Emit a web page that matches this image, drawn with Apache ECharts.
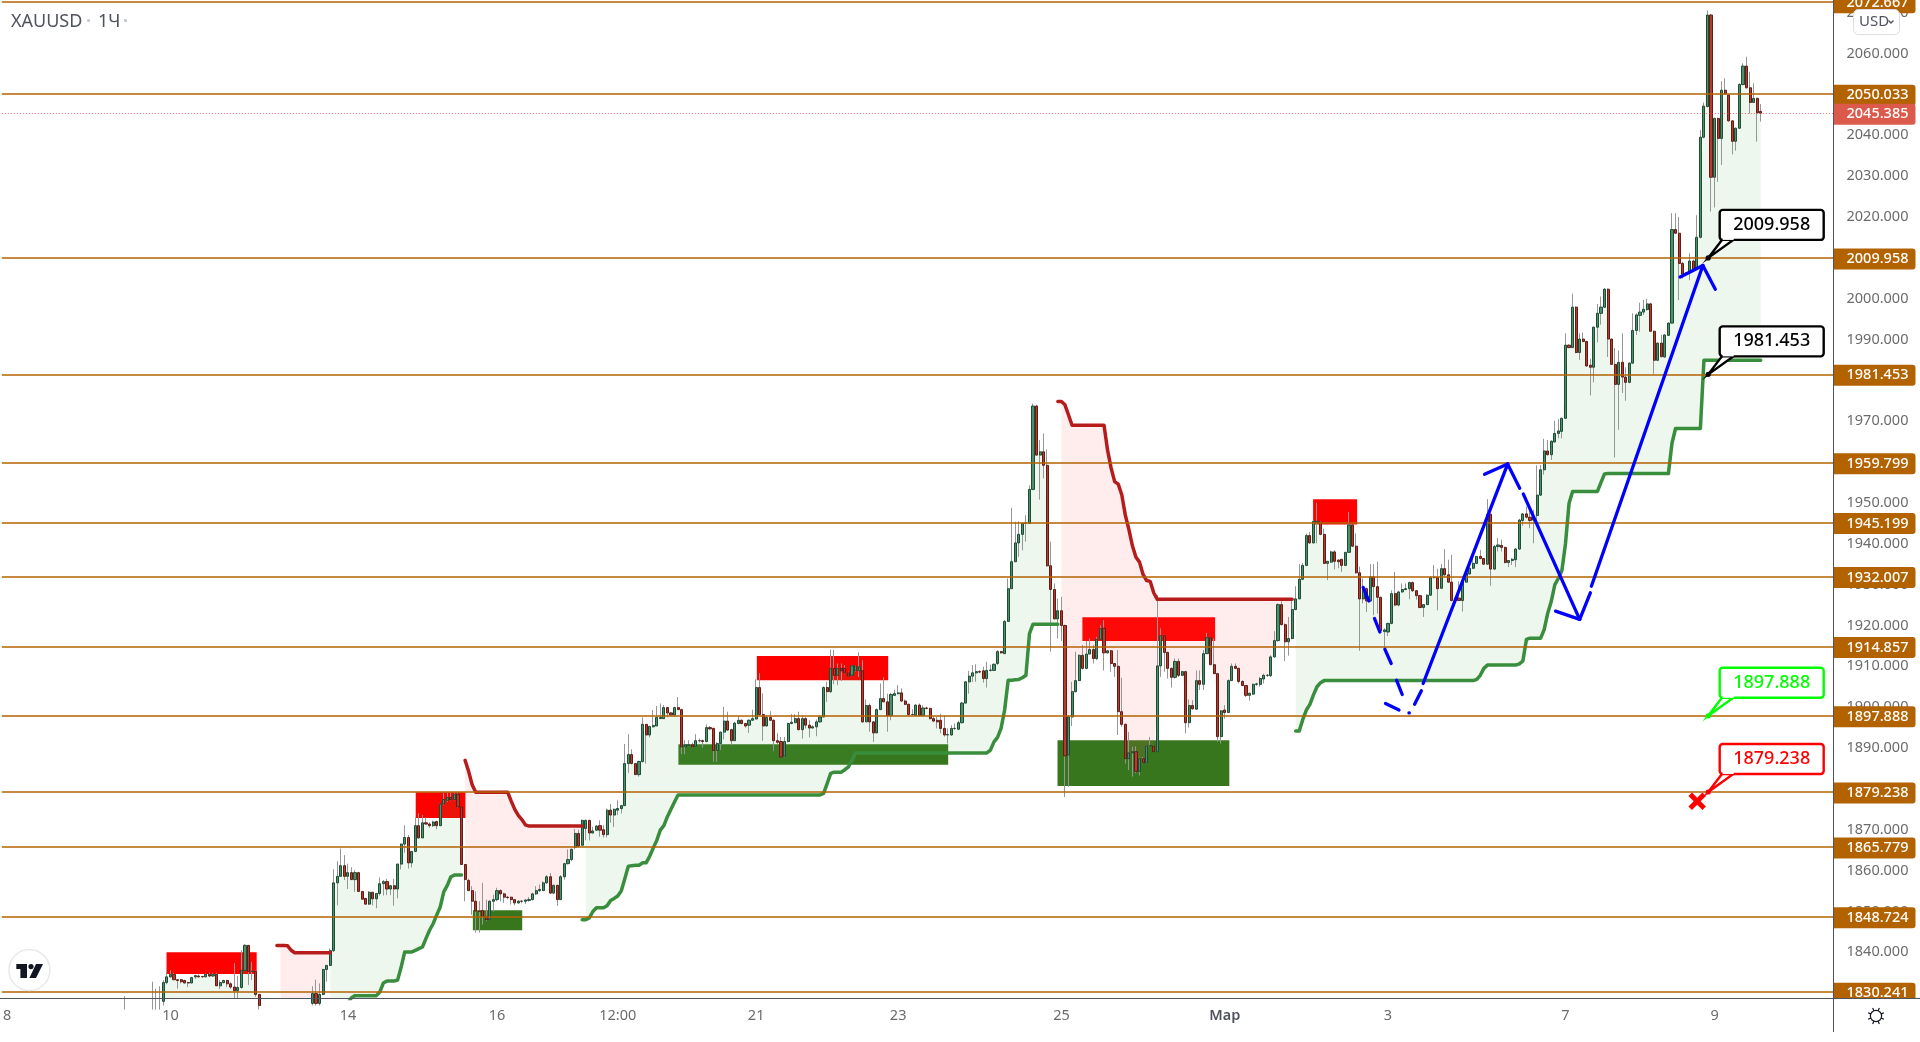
<!DOCTYPE html>
<html><head><meta charset="utf-8">
<style>html,body{margin:0;padding:0;background:#fff}#c{width:1920px;height:1042px}</style>
<script src="https://cdn.jsdelivr.net/npm/echarts@6/dist/echarts.min.js"></script>
</head><body><div id="c"></div>
<script>
const barCount = 516;
const tickPositions = [1,47,97,139,173,212,252,298,344,390,440,482];
const tickLabels = ["8","10","14","16","12:00","21","23","25","Мар","3","7","9"];
const priceTicks = [1840,1850,1860,1870,1880,1890,1900,1910,1920,1930,1940,1950,1960,1970,1980,1990,2000,2010,2020,2030,2040,2050,2060,2070];
const levels = [2072.667,2050.033,2009.958,1981.453,1959.799,1945.199,1932.007,1914.857,1897.888,1879.238,1865.779,1848.724,1830.241];
const lastPrice = 2045.385;

// candles: [open, close, low, high]
const startA = 34;
const runA = [[1827,1827.5,1826,1829.3]];
const startB = 42;
const runB = [[1827,1828,1826,1832.8],[1827,1827.5,1826,1831.1],[1827.5,1828,1826,1831.7],[1828,1832.6,1827,1833.2],[1832.6,1834,1832.2,1835.5],[1834,1834.6,1833.8,1835.6],[1834.6,1833.3,1833.2,1835],[1833.3,1833.1,1831.1,1833.4],[1833.3,1832.8,1832.4,1833.5],[1833.1,1832.5,1832.4,1833.3],[1832.6,1832.5,1831.5,1832.8],[1832.5,1833.8,1832.4,1834],[1834,1834.3,1833.5,1834.5],[1834.2,1834,1833.8,1834.6],[1834.1,1834,1833.8,1834.2],[1834,1834.6,1833.9,1834.9],[1834.6,1834.2,1834,1835],[1834.2,1834.6,1834,1835],[1834.6,1831.8,1831.8,1835],[1831.8,1832.6,1831,1833.2],[1832.6,1833.1,1832.4,1833.3],[1833.1,1832.3,1831.5,1833.3],[1832.3,1831.5,1831.1,1832.7],[1831.5,1830.6,1828.7,1837.4],[1830.6,1831.4,1828.7,1834.2],[1831.4,1835.6,1831.1,1840.5],[1835.6,1841.7,1835.5,1842],[1841.7,1835.3,1832,1841.8],[1835.3,1835.4,1833.2,1837.7],[1835.3,1829.7,1829.1,1835.5],[1829.7,1827,1826,1829.8]];
const startC = 87;
const runC = [[1827.5,1829.9,1827,1831.7],[1829.9,1827.5,1827,1833.3],[1827.5,1829.7,1827,1832.4],[1829.7,1835.8,1829.5,1836],[1835.8,1836.8,1832.8,1836.8],[1836.8,1840.4,1836.6,1840.9],[1840.4,1857,1840.1,1860.3],[1857,1858.6,1851.5,1862.3],[1858.6,1861.2,1858.6,1865.4],[1861.2,1858.6,1857.7,1863.8],[1858.6,1859.5,1855.5,1861.7],[1859.5,1857.8,1857.7,1860.8],[1857.8,1859.5,1854.8,1860.1],[1859.5,1854.9,1854.8,1859.7],[1854.9,1853,1853,1854.9],[1853.2,1851.8,1851.6,1853.2],[1851.8,1854.7,1851.6,1855],[1854.7,1853.1,1851.5,1854.7],[1853.1,1854.4,1850.8,1854.4],[1854.4,1856.8,1853.9,1858.3],[1856.8,1857.3,1853.9,1857.7],[1857.3,1855.5,1854,1858],[1855.5,1856.3,1854,1856.4],[1856.3,1855.5,1851.4,1858],[1855.5,1861.6,1853.2,1861.7],[1861.6,1866.5,1860.3,1866.6],[1866.5,1868.1,1864.4,1871.1],[1868.1,1861.9,1860.5,1868.7],[1861.9,1864.7,1860.8,1864.8],[1864.7,1871,1864.5,1873],[1871,1868,1867.8,1874],[1868,1871.7,1868,1873.6],[1871.7,1871.4,1871.3,1873],[1871.4,1871,1870.5,1871.8],[1871,1871.9,1870.7,1872.2],[1872,1871,1870.1,1872.2],[1871,1876.3,1871,1876.4],[1876.3,1877.4,1876,1879],[1877.2,1877.9,1876.8,1879],[1877.9,1877.4,1877.2,1879],[1877.4,1878.7,1877.2,1879.2],[1878.7,1875.6,1875.4,1879.2],
[1875.6,1861.5,1861.4,1875.7],[1861.5,1857.8,1852.5,1861.6],[1857.6,1855.1,1855,1858],[1855.1,1852.5,1849.2,1856.2],[1852.5,1850.1,1844.8,1854.9],[1850.1,1850,1844.8,1852.5],[1850.2,1848.8,1846.8,1857],[1848.8,1848,1847.6,1852.9],[1848,1852.5,1848,1852.7],[1852.5,1852.9,1850,1854.1],[1852.9,1855.1,1852.5,1855.8],[1855.1,1854.3,1852.5,1855.4],[1854.3,1853.5,1852.1,1854.6],[1853.5,1853.4,1853,1853.8],[1853.5,1852.9,1851.7,1853.6],[1852.9,1852.1,1851.5,1853],[1852.1,1852.5,1851.8,1852.8],[1852.5,1852.5,1852,1852.8],[1852.5,1852.8,1851.8,1853],[1852.7,1852.9,1852.4,1853.5],[1852.9,1854.3,1852.7,1854.6],[1854.3,1855.1,1854,1856.2],[1855.1,1855.4,1854.8,1856.6],[1855.1,1857,1855,1857.4],[1857,1858.5,1856.8,1858.9],[1858.5,1854.5,1854.3,1859.4],[1854.5,1856.4,1854.3,1856.6],[1856.4,1852.9,1851.4,1856.5],[1852.9,1858.5,1852.8,1858.9],[1858.5,1861.7,1857.8,1861.9],[1861.7,1862.7,1861.5,1865.2],[1862.7,1865.2,1862.3,1865.4]];
const startD = 161;
const runD = [[1865.7,1869.1,1865.2,1870.2],[1869.1,1866,1865.7,1870],[1866.2,1872.3,1866.2,1872.5],[1870.3,1872.3,1867.4,1872.5],[1872.3,1869.2,1867.4,1872.3],[1869.2,1869.7,1869.1,1870.7],[1869.9,1870.9,1869.7,1871.1],[1871,1869.9,1868.3,1872.3],[1870,1868.8,1868.1,1871.1],[1868.8,1874.8,1868.1,1875.2],[1874.8,1873.6,1871.7,1876.3],[1873.6,1875,1870.7,1875.2],[1874.8,1875.2,1873.6,1877.2],[1875.2,1875.9,1874,1876],[1875.9,1886.2,1875.8,1891],[1886.2,1888.4,1883.9,1893.4],[1888.4,1886.2,1886,1889.7],[1886.2,1883.5,1883.4,1886.4],[1883.5,1886.7,1883,1886.9],[1886.7,1895.8,1886.4,1897.5],[1895.8,1893.2,1886.2,1895.9],[1893.2,1895.3,1892.6,1895.4],[1895.2,1895.5,1895,1899.3],[1895.4,1897.5,1895.4,1900.3],[1897.2,1897.5,1897.2,1900.9],[1897.2,1899.9,1897.2,1900.5],[1899.9,1898.6,1897.5,1900.1],[1898.6,1898.1,1897.9,1898.8],[1898.1,1899.9,1897.6,1900.1],[1899.9,1899.4,1899.4,1902.5],[1899.4,1890.3,1888.5,1899.6],[1890.3,1890.8,1888.5,1891.9],[1890.6,1890.8,1890.4,1891.9],[1890.8,1890.3,1890.1,1891.3],[1890.4,1891.8,1890.3,1893.4],[1891.8,1891.8,1891.4,1892.3],[1891.8,1891.6,1890.1,1892.1],[1891.6,1895,1891.4,1895.8],[1895,1894.7,1894.5,1895.4],[1894.8,1889.4,1886.6,1895],[1889.4,1891.1,1886.6,1891.5],[1891.1,1893.9,1889.5,1894],[1893.9,1896.6,1892.1,1900.1],[1896.6,1894.4,1894.2,1898.9],[1894.5,1891.8,1890.7,1894.7],[1891.8,1896.1,1891.8,1896.4],[1896,1896.8,1895.8,1897.8],[1896.8,1896,1895.8,1897],[1896,1895.4,1895,1896.2],[1895.6,1896.8,1893.7,1897],[1896.8,1897.2,1896.8,1899.4],[1897.1,1904.8,1897,1906.8],[1904.8,1898.2,1898,1908.3],[1898.2,1895.4,1891.8,1903.4],[1895.4,1897.5,1895.3,1898],[1897.5,1896.8,1896.6,1899],[1896.8,1891.8,1889.3,1897],[1891.8,1891.4,1891,1893.7],[1891.6,1887.8,1887.8,1892.7],[1888,1891.6,1887.7,1892.7],[1891.6,1896,1891.4,1896.2],[1896,1896.3,1895.8,1898.3],[1896.2,1897.2,1896.2,1898.3],[1897.2,1894.5,1894.3,1898.9]];
const startE = 225;
const runE = [[1894.5,1897.2,1892.3,1898],[1897.2,1895.6,1894.8,1897.6],[1895.6,1894.9,1892.6,1896.8],[1894.9,1895.2,1894.8,1895.6],[1895.2,1896.4,1892.9,1897],[1896.4,1897.6,1896.2,1898],[1897.6,1904.8,1897.6,1905.1],[1904.8,1903.8,1901.3,1906.2],[1903.8,1909.5,1903.5,1914.1],[1909.5,1907.8,1905.6,1914],[1907.8,1909.5,1905.4,1910.7],[1909.5,1908.9,1906.4,1910.7],[1909.5,1908.4,1908.2,1910.3],[1908.4,1907.6,1907.4,1908.7],[1907.8,1910.1,1907.6,1910.3],[1908.9,1910.1,1908.6,1910.3],[1908.9,1909.9,1907.4,1913.4],[1908.9,1896.4,1896.2,1911.5],[1896.4,1900.4,1896.4,1901.9],[1900.4,1896.4,1894,1900.9],[1896.4,1893.7,1891.5,1896.6],[1893.7,1899.4,1893.7,1899.7],[1899.4,1902.1,1899.3,1905.8],[1902.1,1901.3,1901.3,1907.3],[1901.3,1897.9,1894,1903.3],[1898,1903.1,1896.8,1903.5],[1902.9,1903.3,1902.7,1904.3],[1903.3,1903.5,1903.1,1905.4],[1903.5,1901.5,1901.3,1904.6],[1901.5,1900.7,1900.5,1901.9],[1900.7,1898.2,1898,1900.9],[1898.2,1898.2,1898,1899.5],[1898,1900.5,1897.8,1900.7],[1900.5,1898,1897.9,1900.9],[1898,1899.8,1897.9,1900.5],[1899.8,1899.7,1899.5,1900.1],[1899.7,1897.2,1897,1899.9],[1897.2,1896.6,1896.4,1897.8],[1896.8,1896.4,1894.8,1897.6],[1896.8,1894.8,1893.6,1898.4],[1894.8,1893.2,1892.8,1898],[1893.2,1893.3,1891.1,1894.8],[1893.2,1894.8,1893,1895.6],[1894.8,1894.8,1894.4,1896],[1894.6,1896.2,1894.5,1896.7],[1896.2,1901,1896,1901.3],[1901,1906.2,1900.9,1906.4],[1906.2,1907.6,1903.3,1908.9],[1907.6,1908.4,1906.2,1910.3],[1908.4,1908.7,1906.2,1910.5],[1908.7,1908.6,1908.3,1909.1],[1908.9,1907,1906,1909.9],[1907,1909,1904.8,1911.1],[1909,1909.1,1908.7,1910.4],[1909,1910.5,1908.9,1910.7],[1910.7,1913.6,1910.3,1914],[1913.6,1913.3,1913.1,1913.8],[1913.1,1921,1913,1921.3],[1921,1929,1920.9,1931.5],[1929,1935.6,1929,1948.8],[1935.6,1940.2,1935.5,1945.4],[1940.2,1942.3,1936.8,1945.5],[1942.3,1945,1938.4,1945.1],[1945,1945.1,1940.5,1947],[1945,1953.3,1944.8,1954.3],[1953.3,1973.7,1953.1,1974.3],[1973.7,1961.7,1961.6,1974],[1961.7,1962.5,1950.8,1965.4],[1962.5,1959.2,1956,1967],[1959.2,1934.6,1934.4,1963.1],[1934.6,1928.8,1913.6,1940.5],[1928.8,1921.6,1921.5,1930.3],[1921.6,1923.6,1916.8,1926.6],[1923.6,1920,1916.2,1927],[1920,1888.1,1878,1920.2],[1888.3,1897.6,1880.5,1898.1],[1897.6,1903.8,1895.4,1906.2],[1903.8,1906.5,1903.6,1913.6],[1906.5,1912.7,1906.4,1912.9],[1912.7,1909.5,1909.2,1915.2],[1909.5,1913,1909.4,1916.2],[1913,1914.1,1913,1916.8],[1914.1,1911.9,1910.7,1915.2],[1911.9,1916.6,1911.5,1917.2],[1916.6,1919.2,1916.4,1920.1]];
const startF = 310;
const runF = [[1919.3,1913.3,1909,1921.3],[1913.3,1913.8,1913.1,1914],[1913.8,1910.7,1908.7,1914],[1910.7,1910,1907.4,1910.8],[1910,1898.9,1893.2,1914],[1898.9,1895.8,1895.2,1907.2],[1895.8,1887.4,1886.2,1896],[1887.4,1888.8,1884.6,1893.9],[1888.8,1889.1,1883,1890.3],[1889.1,1884.3,1883.9,1890.4],[1884.3,1887.4,1883.3,1887.7],[1887.4,1886.4,1886.2,1887.8],[1886.4,1890.5,1886.2,1890.7],[1890.5,1890.6,1890.4,1892.7],[1890.5,1889.1,1889,1890.7],[1889.1,1910.1,1889,1927.4],[1910.1,1917.5,1907.4,1919.3],[1917.5,1913.4,1908.7,1917.7],[1913.4,1909.5,1907,1913.6],[1909.5,1907.3,1904.8,1909.7],[1907.3,1911.2,1907,1911.9],[1911.2,1907.8,1907.4,1911.9],[1907.8,1908.7,1907.6,1908.9],[1908.7,1896.2,1893.6,1908.9],[1896.2,1900.4,1895,1901.9],[1900.4,1899.6,1899.4,1901.7],[1899.5,1906.5,1899.4,1909],[1906.5,1905.6,1904.2,1909],[1905.6,1913.1,1904.2,1914],[1913.1,1917,1913,1918.2],[1917,1910.4,1910.3,1917.2],[1910.4,1908.2,1908.1,1916.8],[1908.2,1892.8,1891.5,1908.4],[1892.8,1899.1,1891.1,1899.3],[1899.3,1898.7,1897.2,1900.5],[1898.7,1906.5,1898.7,1906.8],[1906.5,1910,1906.4,1910.7],[1910,1909.5,1909.3,1910.7],[1909.5,1906.3,1905.8,1909.7],[1906.3,1905.3,1905.1,1906.6],[1905.3,1902.9,1902.5,1905.4],[1902.9,1903.4,1901.6,1903.6],[1903.2,1905.6,1903,1905.8],[1905.6,1905.7,1905.2,1906],[1905.6,1907,1905,1907.4],[1906.9,1907.8,1905.8,1908.2],[1907.8,1907.8,1907.4,1908.1],[1907.7,1912.3,1907.4,1912.7],[1912.3,1916.3,1912.1,1918.6],[1916.3,1925.1,1916,1925.4],[1925.1,1920.2,1920,1926.4],[1920.2,1916,1911.3,1920.5],[1916,1916.8,1912.6,1922.1],[1916.8,1923.9,1916.6,1926.2],[1923.9,1926.5,1923.7,1929.6],[1926.5,1931.3,1926.5,1935],[1931.3,1934.7,1931.1,1935.3],[1934.7,1942,1934.5,1942.5],[1942,1940.2,1940,1942.9],[1940.2,1945.5,1940.1,1945.8],[1945.3,1945.5,1940.1,1950],[1945.3,1942.3,1942.1,1945.6],[1942.3,1935.2,1935,1943.7],[1935.2,1935.7,1931.1,1935.8],[1935.5,1938,1935.3,1938.3],[1938,1935.7,1933.7,1938.4],[1936,1935.6,1934,1936.2],[1936.2,1934.7,1933.1,1936.3],[1934.7,1937.9,1934.5,1938],[1937.9,1944.6,1937.8,1947.8],[1944.6,1939.4,1939.2,1944.8],[1939.4,1932.9,1932.7,1942.5],[1932.9,1926.5,1913.8,1934.4],[1926.5,1929,1925.4,1931.5],[1929,1926,1923.3,1929.3],[1926,1931.9,1925.8,1935],[1931.9,1929.5,1922.5,1935],[1929.5,1926.9,1922.9,1935.6],[1926.9,1918.7,1918.4,1927],[1918.5,1918.9,1914.8,1919.3],[1918.4,1920.5,1917.4,1920.7],[1920.5,1927.8,1920.3,1928.6],[1927.8,1925,1924.7,1933.1],[1925,1928.2,1924.7,1928.5],[1928.2,1928.8,1928,1930.3],[1928.8,1929,1928.6,1930.3],[1929,1930.5,1926.4,1930.7],[1930.5,1928.5,1928.2,1930.8],[1928.5,1927.3,1926.3,1928.7],[1927.3,1924.4,1924.2,1927.5],[1924.4,1925.1,1922.1,1925.2],[1925.1,1927.4,1925,1927.6],[1927.4,1931.7,1927.3,1932.1],[1931.7,1931.8,1931.5,1934.8],[1931.7,1929,1923.7,1933.9]];
const startG = 405;
const runG = [[1929.1,1933.9,1929,1935.1],[1933.9,1932.4,1932,1938.7],[1932.4,1930.6,1930.4,1936.1],[1930.6,1926.1,1925.9,1937.3],[1926.1,1926.7,1925.8,1927],[1926.7,1926.1,1926,1930.8],[1926.1,1930.8,1923.4,1930.9],[1930.6,1932.8,1930.5,1933],[1932.6,1934,1932.4,1935.2],[1934,1935.2,1933.8,1936.9],[1935.2,1936.9,1935,1937],[1936.9,1936.4,1936.2,1938.5],[1936.4,1935,1934.8,1936.5],[1935,1947.2,1934.8,1950.9],[1947.2,1933.8,1929.7,1947.5],[1933.8,1939.3,1933.6,1939.7],[1939.3,1939.7,1938.1,1941.4],[1939.6,1939.1,1938.1,1941],[1939.1,1935.4,1935.2,1939.3],[1935.4,1935.9,1934.3,1936],[1935.9,1936.2,1934.8,1936.5],[1936.1,1938.7,1934.3,1938.9],[1938.7,1945.8,1938.5,1946.1],[1945.7,1947.3,1944.4,1947.5],[1947.3,1946.5,1946.2,1949.1],[1946.5,1945.7,1943.8,1947.9],[1945.8,1946.3,1940.1,1948.3],[1946.9,1951.9,1945.4,1959.2],[1951.9,1958.1,1951.7,1959.3],[1958.1,1962.7,1956.9,1965.7],[1962.7,1961.8,1961.6,1965.4],[1961.8,1965.1,1960.5,1965.3],[1964.9,1967,1964.8,1970.1],[1967,1967.6,1965.8,1970.5],[1967.5,1970.7,1965.8,1970.9],[1970.7,1988.6,1970.6,1991.5],[1988.6,1988,1987.9,1988.8],[1988,1997.9,1987.9,2001.2],[1997.9,1986.8,1986.6,1998.1],[1986.8,1990.1,1985,1991.5],[1990.1,1989.5,1989.3,1991.7],[1989.5,1983.5,1983.4,1989.7],[1983.7,1983.2,1976.3,1985.3],[1983.2,1993,1979.5,1993.2],[1993,1996.4,1989.3,1998.7],[1996.4,1997.9,1993.6,2000.5],[1997.9,2002.3,1997.7,2002.6],[2002.3,1990.1,1985.7,2002.5],[1990.1,1983.9,1983.8,1990.2],[1983.9,1979,1961.1,1987.9],[1979,1984.4,1967.9,1987.3],[1984.4,1980.8,1976.9,1991.5],[1980.8,1979.5,1975,1983.2],[1979.5,1984.2,1979.3,1984.4],[1984.2,1992.2,1984,1996.4],[1992.2,1996,1991.1,1996.4],[1995.9,1996.7,1991.9,1999],[1996.7,1997.4,1996,1999.7],[1997.3,1998.7,1997.1,1999.9],[1998.7,1992,1991.9,1998.9],[1992,1984.9,1981.6,1992.2],[1984.9,1989.1,1984.7,1989.3],[1989.1,1985.8,1985.6,1991.1],[1985.7,1991.1,1985.5,1991.3],[1991,1994,1990.9,1994.2],
[1994,2016.9,1993.9,2020.9],[2016.9,2016,2015.8,2020.9],[2016,2008.6,1999.6,2020],[2008.6,2006,2004.9,2009],[2006,2006.2,2005.5,2006.5],[2006.6,2009.2,2004.5,2011.1],[2009.2,2007,2006.6,2009.5],[2007.4,2015,2007,2020.4],[2015,2039.5,2014.7,2041.3],[2039.5,2047.1,2039.2,2048],[2047,2069.4,2046.8,2070.5],[2069.4,2029.7,2021.3,2069.7],[2029.7,2044.1,2022.3,2044.3],[2044.1,2039.2,2028.6,2044.3],[2039.2,2051,2032.7,2053.2],[2051,2050.1,2049.9,2053.9],[2049.8,2043.5,2043.3,2050],[2043.5,2038.5,2035.3,2043.7],[2038.5,2041.7,2036.2,2041.9],[2041.7,2052.4,2041.5,2052.7],[2052.4,2056.9,2052.2,2057.6],[2056.9,2051.6,2051.4,2059.2],[2051.6,2048,2045.3,2055.5],[2048,2049,2047.9,2052.7],[2049,2045.5,2038.4,2049.2],[2045.8,2045.385,2043.3,2047.6]];

// trailing-stop lines
const startGreenA = 45;
const greenA = [1820,1820,1820,1820,1820,1820,1820,1820,1820,1820,1820,1820,1820,1820,1820,1820,1820,1820,1820,1820,1820,1820,1820,1820,1820,1820,1820,1820];
const startRedA = 77;
const redA = [1841.7,1841.7,1841.7,1841.6,1840.5,1839.9,1839.9,1839.9,1839.9,1839.9,1839.9,1839.9,1839.9,1839.9,1839.9,1839.9];
const startGreenB = 92;
const greenB = [1822,1824,1825,1826,1827,1827.5,1828.9,1829.4,1829.4,1829.4,1829.4,1829.4,1829.4,1829.4,1830.3,1832.5,1833,1833,1833,1833.2,1836.4,1840.1,1840.1,1840.1,1840.5,1840.9,1841.3,1843.4,1845.4,1847,1849.1,1851.1,1854.8,1856.4,1858.5,1858.9,1858.9,1858.9];
const startRedB = 130;
const redB = [1887,1884.3,1881,1879.2,1879.2,1879.2,1879.2,1879.2,1879.2,1879.2,1879.2,1879.2,1879.2,1877,1875,1873.5,1872.5,1871.2,1870.9,1870.9,1870.9,1870.9,1870.9,1870.9,1870.9,1870.9,1870.9,1870.9,1870.9,1870.9,1870.9,1870.9,1870.9,1870.9];
const startGreenC = 163;
const greenC = [1848,1848,1848.4,1850,1850.9,1850.9,1850.9,1851.4,1852.7,1853.2,1853.8,1855,1858,1861.1,1861.2,1861.3,1861.3,1861.9,1861.9,1863.5,1865.5,1867.4,1869.9,1871,1873.2,1875,1876.8,1878.5,
1878.5,1878.5,1878.5,1878.5,1878.5,1878.5,1878.5,1878.5,1878.5,1878.5,
1878.5,1878.5,1878.5,1878.5,1878.5,1878.5,1878.5,1878.5,1878.5,1878.5,
1878.5,1878.5,1878.5,1878.5,1878.5,1878.5,1878.5,1878.5,1878.5,1878.5,
1878.5,1878.5,1878.5,1878.5,1878.5,1878.5,1878.5,1878.5,1878.5,1878.5,
1878.9,1881.3,1883.8,1884.1,1884.1,1884.1,1884.7,1885.4,1887,1888.8,
1888.8,1888.8,1888.8,1888.8,1888.8,1888.8,1888.8,1888.8,1888.8,1888.8,
1888.8,1888.8,1888.8,1888.8,1888.8,1888.8,1888.8,1888.8,1888.8,1888.8,
1888.8,1888.8,1888.8,1888.8,1888.8,1888.8,1888.8,1888.8,1888.8,1888.8,
1888.8,1888.8,1888.8,1888.8,1888.8,1888.8,1888.8,
1889.5,1891.5,1892.6,1894.8,1899.3,1906.6,1906.6,1906.7,1906.8,1907.2,1907.8,1918,1920.3,1920.3,1920.3,1920.3,1920.3,1920.3,1920.3,1920.3];
const startRedC = 297;
const redC = [1974.8,1974.8,1974,1971.5,1969,1969,1969,1969,1969,1969,1969,1969,1969,1969,1962.9,1958.5,1955.2,1954.6,1952,1947,1943.5,1939.5,1936.7,1935.5,1932.5,1931,1930.8,1928,1926.4,
1926.4,1926.4,1926.4,1926.4,1926.4,1926.4,1926.4,1926.4,1926.4,1926.4,1926.4,1926.4,1926.4,1926.4,1926.4,1926.4,1926.4,1926.4,1926.4,1926.4,1926.4,1926.4,1926.4,1926.4,1926.4,1926.4,1926.4,1926.4,1926.4,1926.4,1926.4,1926.4,1926.4,1926.4,1926.4,1926.4,1926.4,1926.4];
const startGreenD = 364;
const greenD = [1894.2,1894.2,1897,1899.3,1900.7,1903,1905,1906,1906.5,
1906.5,1906.5,1906.5,1906.5,1906.5,1906.5,1906.5,1906.5,1906.5,1906.5,
1906.5,1906.5,1906.5,1906.5,1906.5,1906.5,1906.5,1906.5,1906.5,1906.5,
1906.5,1906.5,1906.5,1906.5,1906.5,1906.5,1906.5,1906.5,1906.5,1906.5,
1906.5,1906.5,1906.5,1906.5,1906.5,1906.5,1906.5,1906.5,1906.5,1906.5,
1906.5,1906.5,
1906.8,1907.8,1909.5,1910.3,1910.3,1910.3,1910.3,1910.3,1910.3,1910.3,1910.3,1910.3,1910.6,1911.3,1916.6,1916.9,1916.9,1916.9,1916.9,1919,1923,1925.9,1930,1931.5,1933.5,1940,1949.9,1952.8,1952.8,1952.8,1952.8,1952.8,1952.8,1952.8,1952.8,1955,1957.1,
1957.2,1957.2,1957.2,1957.2,1957.2,1957.2,1957.2,1957.2,1957.2,1957.2,1957.2,1957.2,1957.2,1957.2,1957.2,1957.2,1957.2,1957.2,
1964.6,1968.2,1968.2,1968.2,1968.2,1968.2,1968.2,1968.2,1968.2,
1984.9,1984.9,1984.9,1984.9,1984.9,1984.9,1984.9,1984.9,1984.9,1984.9,1984.9,1984.9,1984.9,1984.9,1984.9,1984.9,1984.9];

// zones: [barFrom, barTo, priceTop, priceBottom]
const redZones = [[45.9,71.3,1840,1834.7],[116.1,130.1,1879.2,1872.9],[212.2,249.2,1912.5,1906.6],[303.9,341.3,1922,1916.2],[368.9,381.3,1950.9,1944.7]];
const greenZones = [[132.2,146.1,1850.3,1845.4],[190.1,266.1,1890.9,1885.9],[296.9,345.3,1891.9,1880.7]];

// blue hand-drawn strokes: [barFrom, priceFrom, barTo, priceTo]
const blueStrokes = [[383,1929.3,384.6,1926],[386.2,1921.7,387.7,1918.4],[389.1,1914.2,390.9,1910.7],[392.4,1906.6,394,1903.1],[389.3,1900.9,393.1,1899.3],[395.9,1898.6,396,1898.6],[397.5,1900.7,399.4,1904],[399.9,1905.8,423.7,1959.5],[417.2,1957,423.7,1959.5],[423.7,1959.5,427.1,1953.6],[428.1,1952.2,444,1921.5],[437.2,1923.5,444,1921.5],[444,1921.5,447,1928],[447.3,1929.6,478.7,2008.1],[472.3,2005.3,478.7,2008.1],[478.7,2008.1,482.2,2002.3]];

const calloutBars = [480.2,480.2,480.2,480.2];
const calloutPrices = [2009.958,1981.453,1897.888,1879.238];
const calloutColors = ['#000000','#000000','#00ff00','#ff0000'];
const crossBar = 477.1, crossPrice = 1877;

const yMin = 1828.7, yMax = 2073.08;
const font = '"Noto Sans", sans-serif';
const axisGrey = '#6b6b6b';
const levelColor = '#b36200';

const categories = new Array(barCount).fill('');
tickPositions.forEach((p,k)=>{categories[p]=tickLabels[k];});

const candleByBar = {};
[[startA,runA],[startB,runB],[startC,runC],[startD,runD],[startE,runE],[startF,runF],[startG,runG]].forEach(([s,run])=>{
  run.forEach((r,k)=>{candleByBar[s+k]=r;});
});
const bars = Object.keys(candleByBar).map(Number).sort((a,b)=>a-b);
const wickData = bars.map(b=>{const r=candleByBar[b];return [b,r[0],r[1],r[2],r[3]];});
const bodyData = bars.map(b=>{const r=candleByBar[b];return [b,r[0],r[1],Math.min(r[0],r[1]),Math.max(r[0],r[1])];});

function lineData(pairs){
  const a=new Array(barCount).fill(null);
  pairs.forEach(([s,vals])=>vals.forEach((v,k)=>{a[s+k]=v;}));
  return a;
}
const fillRuns = [
  [startGreenA,greenA,'rgba(76,175,80,0.1)'],
  [startRedA+1,redA.slice(1),'rgba(255,82,82,0.1)'],
  [startGreenB,greenB,'rgba(76,175,80,0.1)'],
  [startRedB,redB,'rgba(255,82,82,0.1)'],
  [startGreenC+1,greenC.slice(1),'rgba(76,175,80,0.1)'],
  [startRedC+1,redC.slice(1),'rgba(255,82,82,0.1)'],
  [startGreenD,greenD,'rgba(76,175,80,0.1)']
];
function midOf(b){
  const r=candleByBar[b];
  return r?(r[0]+r[1])/2:yMin-6;
}

const chart = echarts.init(document.getElementById('c'),null,{renderer:'canvas'});
const graphicEls = [
  {type:'rect',z:50,shape:{x:1834,y:999,width:86,height:43},style:{fill:'#fff'}},
  {type:'line',z:60,shape:{x1:0,y1:998.5,x2:1920,y2:998.5},style:{stroke:'#50535e',lineWidth:1}},
  {type:'line',z:60,shape:{x1:1833.5,y1:0,x2:1833.5,y2:1032},style:{stroke:'#50535e',lineWidth:1}},
  {type:'text',z:60,style:{text:'XAUUSD',x:11,y:22,fill:'#50535e',font:'18px '+font,verticalAlign:'middle'}},
  {type:'text',z:60,style:{text:'·',x:86,y:22,fill:'#c6c8d0',font:'bold 18px '+font,verticalAlign:'middle'}},
  {type:'text',z:60,style:{text:'1Ч',x:98,y:22,fill:'#50535e',font:'18px '+font,verticalAlign:'middle'}},
  {type:'text',z:60,style:{text:'·',x:123,y:22,fill:'#c6c8d0',font:'bold 18px '+font,verticalAlign:'middle'}},
  {type:'rect',z:80,shape:{x:1853.5,y:9.5,width:46,height:25,r:5},style:{fill:'#fff',stroke:'#dadde8',lineWidth:1}},
  {type:'text',z:81,style:{text:'USD',x:1859,y:22,fill:'#50535e',font:'15px '+font,verticalAlign:'middle'}},
  {type:'polyline',z:81,shape:{points:[[1888.5,20.5],[1891,23],[1893.5,20.5]]},style:{stroke:'#50535e',lineWidth:1.3,fill:'none'}},
  {type:'circle',z:60,shape:{cx:29.4,cy:970,r:20.5},style:{fill:'#fff',stroke:'#e8e9ec',lineWidth:1.5}},
  {type:'polygon',z:61,shape:{points:[[16.3,964],[27,964],[27,978],[20.4,978],[20.4,969],[16.3,969]]},style:{fill:'#131722'}},
  {type:'circle',z:61,shape:{cx:31,cy:966.6,r:2.6},style:{fill:'#131722'}},
  {type:'polygon',z:61,shape:{points:[[36,964],[43,964],[36,978],[29.4,978]]},style:{fill:'#131722'}},
  {type:'circle',z:60,shape:{cx:1876,cy:1016,r:5.6},style:{fill:'none',stroke:'#131722',lineWidth:1.2}}
];
for(let k=0;k<8;k++){
  const t=k*Math.PI/4+Math.PI/8;
  graphicEls.push({type:'line',z:60,shape:{x1:1876+5.6*Math.cos(t),y1:1016+5.6*Math.sin(t),x2:1876+8.6*Math.cos(t),y2:1016+8.6*Math.sin(t)},style:{stroke:'#131722',lineWidth:1.2}});
}

chart.setOption({
  animation:false,
  backgroundColor:'#ffffff',
  textStyle:{fontFamily:font},
  grid:{left:0,right:86.5,top:0,bottom:43.5,containLabel:false},
  xAxis:[
    {type:'category',data:categories,boundaryGap:true,
     axisLine:{show:false},axisTick:{show:false},splitLine:{show:false},
     axisLabel:{show:true,color:axisGrey,fontSize:14.5,fontFamily:font,margin:10,hideOverlap:false,
       interval:(idx,val)=>val!=='',
       formatter:(v)=>v==='Мар'?'{b|Мар}':v,
       rich:{b:{color:'#50535e',fontWeight:600,fontSize:14.5,fontFamily:font}}}},
    {type:'value',min:-0.5,max:barCount-0.5,show:false,position:'top'}
  ],
  yAxis:{type:'value',position:'right',min:yMin,max:yMax,scale:true,
    axisLine:{show:false},axisTick:{show:false},splitLine:{show:false},
    axisLabel:{show:true,color:axisGrey,fontSize:14.5,fontFamily:font,margin:13,customValues:priceTicks,
      formatter:v=>Number(v).toFixed(3)}},
  graphic:{elements:graphicEls},
  series:[
    {type:'custom',name:'zonesRed',xAxisIndex:1,z:1,clip:true,silent:true,data:redZones,encode:{x:[0,1],y:[2,3]},
     renderItem:(p,api)=>{const a=api.coord([api.value(0),api.value(2)]),b=api.coord([api.value(1),api.value(3)]);
       return {type:'rect',shape:{x:a[0],y:a[1],width:b[0]-a[0],height:b[1]-a[1]},style:{fill:'#ff0000'}};}},
    {type:'custom',name:'zonesGreen',xAxisIndex:1,z:1,clip:true,silent:true,data:greenZones,encode:{x:[0,1],y:[2,3]},
     renderItem:(p,api)=>{const a=api.coord([api.value(0),api.value(2)]),b=api.coord([api.value(1),api.value(3)]);
       return {type:'rect',shape:{x:a[0],y:a[1],width:b[0]-a[0],height:b[1]-a[1]},style:{fill:'#38761d'}};}},
    {type:'custom',name:'fill',xAxisIndex:1,z:2,clip:true,silent:true,data:fillRuns.map((r,k)=>[k,yMax]),encode:{x:0,y:1},
     renderItem:(p,api)=>{const run=fillRuns[api.value(0)];const pts=[];
       run[1].forEach((v,k)=>pts.push(api.coord([run[0]+k,v])));
       for(let k=run[1].length-1;k>=0;k--)pts.push(api.coord([run[0]+k,midOf(run[0]+k)]));
       return {type:'polygon',shape:{points:pts},style:{fill:run[2]}};}},
    {type:'candlestick',name:'wicks',z:3,silent:true,barWidth:1,data:wickData,encode:{x:0,y:[1,2,3,4]},
     itemStyle:{color:'#969696',color0:'#969696',borderColor:'#969696',borderColor0:'#969696',borderColorDoji:'#969696',borderWidth:1}},
    {type:'candlestick',name:'bodies',z:4,silent:true,barWidth:2.6,data:bodyData,encode:{x:0,y:[1,2,3,4]},
     itemStyle:{color:'#4c8f6a',color0:'#b8392e',borderColor:'#1e4d36',borderColor0:'#5f1d16',borderColorDoji:'#333333',borderWidth:1}},
    {type:'line',name:'greenStop',z:5,silent:true,symbol:'none',connectNulls:false,
     data:lineData([[startGreenA,greenA],[startGreenB,greenB],[startGreenC,greenC],[startGreenD,greenD]]),
     lineStyle:{color:'#388e3c',width:3.5,cap:'round',join:'round'}},
    {type:'line',name:'redStop',z:5,silent:true,symbol:'none',connectNulls:false,
     data:lineData([[startRedA,redA],[startRedB,redB],[startRedC,redC]]),
     lineStyle:{color:'#b71c1c',width:3.5,cap:'round',join:'round'}},
    {type:'line',name:'levels',z:6,silent:true,data:[],
     markLine:{silent:true,z:6,animation:false,symbol:['none','none'],precision:3,
       lineStyle:{color:levelColor,width:1.6,type:'solid'},
       label:{show:true,position:'end',distance:0,offset:[0,1],color:'#fff',fontSize:14.5,fontFamily:font,fontWeight:500,
         backgroundColor:levelColor,padding:[3,7,3,13],lineHeight:15,borderRadius:[0,3,3,0],
         formatter:p=>Number(p.value).toFixed(3)},
       data:levels.map(v=>({yAxis:v}))}},
    {type:'line',name:'last',z:6,silent:true,data:[],
     markLine:{silent:true,z:6,animation:false,symbol:['none','none'],precision:3,
       lineStyle:{color:'rgba(242,54,69,0.75)',width:1,type:[1,2]},
       label:{show:true,position:'end',distance:0,offset:[0,1],color:'#fff',fontSize:14.5,fontFamily:font,fontWeight:500,
         backgroundColor:'#dc5a4c',padding:[3,7,3,13],lineHeight:15,borderRadius:[0,3,3,0],
         formatter:p=>Number(p.value).toFixed(3)},
       data:[{yAxis:lastPrice}]}},
    {type:'custom',name:'blue',xAxisIndex:1,z:7,silent:true,clip:false,data:blueStrokes,encode:{x:[0,2],y:[1,3]},
     renderItem:(p,api)=>{const a=api.coord([api.value(0),api.value(1)]),b=api.coord([api.value(2),api.value(3)]);
       return {type:'line',shape:{x1:a[0],y1:a[1],x2:b[0],y2:b[1]},style:{stroke:'#0000ff',lineWidth:3.3,lineCap:'round'}};}},
    {type:'custom',name:'cross',xAxisIndex:1,z:8,silent:true,clip:false,data:[[crossBar,crossPrice]],encode:{x:0,y:1},
     renderItem:(p,api)=>{const c=api.coord([api.value(0),api.value(1)]);const s=7;
       const st={stroke:'#ff0000',lineWidth:5};
       return {type:'group',children:[
         {type:'line',shape:{x1:c[0]-s,y1:c[1]-s,x2:c[0]+s,y2:c[1]+s},style:st},
         {type:'line',shape:{x1:c[0]-s,y1:c[1]+s,x2:c[0]+s,y2:c[1]-s},style:st}]};}},
    {type:'custom',name:'callouts',xAxisIndex:1,z:9,silent:true,clip:false,
     data:calloutBars.map((b,k)=>[b,calloutPrices[k],k]),encode:{x:0,y:1},
     renderItem:(p,api)=>{const c=api.coord([api.value(0),api.value(1)]);const k=api.value(2);const col=calloutColors[k];
       const L=c[0]+11.5,T=c[1]-48,W=104,H=30;
       return {type:'group',children:[
         {type:'polygon',shape:{points:[[c[0],c[1]],[L+3,T+H-1],[L+15,T+H-1]]},style:{fill:'#fff',stroke:col,lineWidth:2.4}},
         {type:'rect',shape:{x:L,y:T,width:W,height:H,r:3},style:{fill:'#fff',stroke:col,lineWidth:2.4}},
         {type:'rect',shape:{x:L+3,y:T+H-3,width:11,height:3},style:{fill:'#fff'}},
         {type:'text',style:{text:calloutPrices[k].toFixed(3),x:L+W/2,y:T+H/2,fill:col,font:'500 18px '+font,align:'center',verticalAlign:'middle'}},
         {type:'circle',shape:{cx:c[0],cy:c[1],r:2.6},style:{fill:col}}]};}}
  ]
});
</script></body></html>
